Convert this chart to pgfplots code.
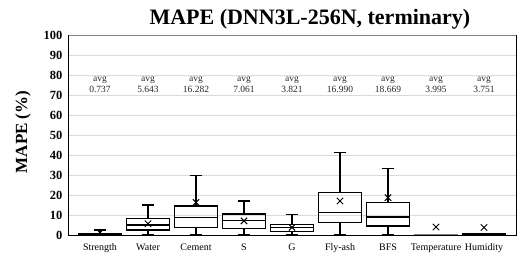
\documentclass[border=0pt]{standalone}
\usepackage{fontspec}
\setmainfont{Liberation Serif}
\usepackage{pgfplots}
\pgfplotsset{compat=1.18}
\usepgfplotslibrary{statistics}
\definecolor{gridgray}{RGB}{218,218,218}
\tikzset{avglab/.style={font=\fontsize{9.5}{9.5}\selectfont, text=black!85, align=center, inner sep=0pt}}
\begin{document}
\begin{tikzpicture}
\begin{axis}[
  scale only axis,
  width=448pt, height=200pt,
  xmin=-0.667, xmax=8.667,
  ymin=0, ymax=100,
  ytick={0,10,...,100},
  xtick={0,1,2,3,4,5,6,7,8},
  xticklabels={Strength,Water,Cement,S,G,Fly-ash,BFS,Temperature,Humidity},
  /pgf/number format/assume math mode=true,
  yticklabel style={font=\bfseries\fontsize{12.5}{12.5}\selectfont, xshift=-2pt},
  xticklabel style={font=\fontsize{10}{10}\selectfont, yshift=-5pt},
  major tick length=0pt,
  ymajorgrids, major grid style={gridgray, line width=0.9pt},
  axis line style={draw=none},
  title={MAPE (DNN3L-256N, terminary)},
  title style={at={(0.54,1)}, anchor=base, yshift=5pt, font=\bfseries\fontsize{22}{22}\selectfont},
  boxplot/draw direction=y,
  boxplot/box extend=0.9,
  boxplot/whisker extend=0.27,
  clip=false,
]
\addplot[black, line width=1.1pt, boxplot prepared={draw position=0, lower whisker=0, lower quartile=0.1, median=0.4, upper quartile=0.8, upper whisker=2.5}] coordinates {};
\addplot[black, line width=1.1pt, boxplot prepared={draw position=1, lower whisker=0.3, lower quartile=2.5, median=5, upper quartile=8.3, upper whisker=15}] coordinates {};
\addplot[black, line width=1.1pt, boxplot prepared={draw position=2, lower whisker=0.3, lower quartile=3.8, median=8.7, upper quartile=14.5, upper whisker=29.7}] coordinates {};
\addplot[black, line width=1.1pt, boxplot prepared={draw position=3, lower whisker=0.3, lower quartile=3.3, median=7.3, upper quartile=10.5, upper whisker=17}] coordinates {};
\addplot[black, line width=1.1pt, boxplot prepared={draw position=4, lower whisker=0.3, lower quartile=1.7, median=3.6, upper quartile=5.3, upper whisker=10.2}] coordinates {};
\addplot[black, line width=1.1pt, boxplot prepared={draw position=5, lower whisker=0, lower quartile=6.3, median=11.3, upper quartile=21.3, upper whisker=41.2}] coordinates {};
\addplot[black, line width=1.1pt, boxplot prepared={draw position=6, lower whisker=0, lower quartile=4.5, median=9, upper quartile=16.3, upper whisker=33.3}] coordinates {};
\addplot[gray, line width=0.8pt, boxplot prepared={draw position=7, lower whisker=0, lower quartile=0.05, median=0.1, upper quartile=0.2, upper whisker=0.3}] coordinates {};
\addplot[black, line width=1.1pt, boxplot prepared={draw position=8, lower whisker=0, lower quartile=0.1, median=0.3, upper quartile=0.6, upper whisker=0.8}] coordinates {};
% means
\addplot[only marks, mark=x, mark size=4.5pt, black, line width=1pt] coordinates {
(0,1.2) (1,5.643) (2,16.282) (3,7.061) (4,3.821) (5,16.990) (6,18.669) (7,3.995) (8,3.751)};
% avg labels
\node[avglab] at (axis cs:0,75) {avg\\[1.5pt]0.737};
\node[avglab] at (axis cs:1,75) {avg\\[1.5pt]5.643};
\node[avglab] at (axis cs:2,75) {avg\\[1.5pt]16.282};
\node[avglab] at (axis cs:3,75) {avg\\[1.5pt]7.061};
\node[avglab] at (axis cs:4,75) {avg\\[1.5pt]3.821};
\node[avglab] at (axis cs:5,75) {avg\\[1.5pt]16.990};
\node[avglab] at (axis cs:6,75) {avg\\[1.5pt]18.669};
\node[avglab] at (axis cs:7,75) {avg\\[1.5pt]3.995};
\node[avglab] at (axis cs:8,75) {avg\\[1.5pt]3.751};
\coordinate (ll) at (rel axis cs:0,0);
\coordinate (ur) at (rel axis cs:1,1);
\coordinate (ul) at (rel axis cs:0,1);
\coordinate (lr) at (rel axis cs:1,0);
\coordinate (ml) at (rel axis cs:0,0.515);
\end{axis}
\node[rotate=90, anchor=center, inner sep=0pt, font=\bfseries\fontsize{17}{17}\selectfont] at ([xshift=-45pt]ml) {MAPE (\%)};
\draw[gray, line width=0.9pt] (ul) -- (ur);
\draw[black, line width=1pt] (ul) -- (ll) -- (lr) -- (ur);
\pgfresetboundingbox
\path ([xshift=-68pt,yshift=-23pt]ll) rectangle ([xshift=2pt,yshift=35pt]ur);
\end{tikzpicture}
\end{document}
